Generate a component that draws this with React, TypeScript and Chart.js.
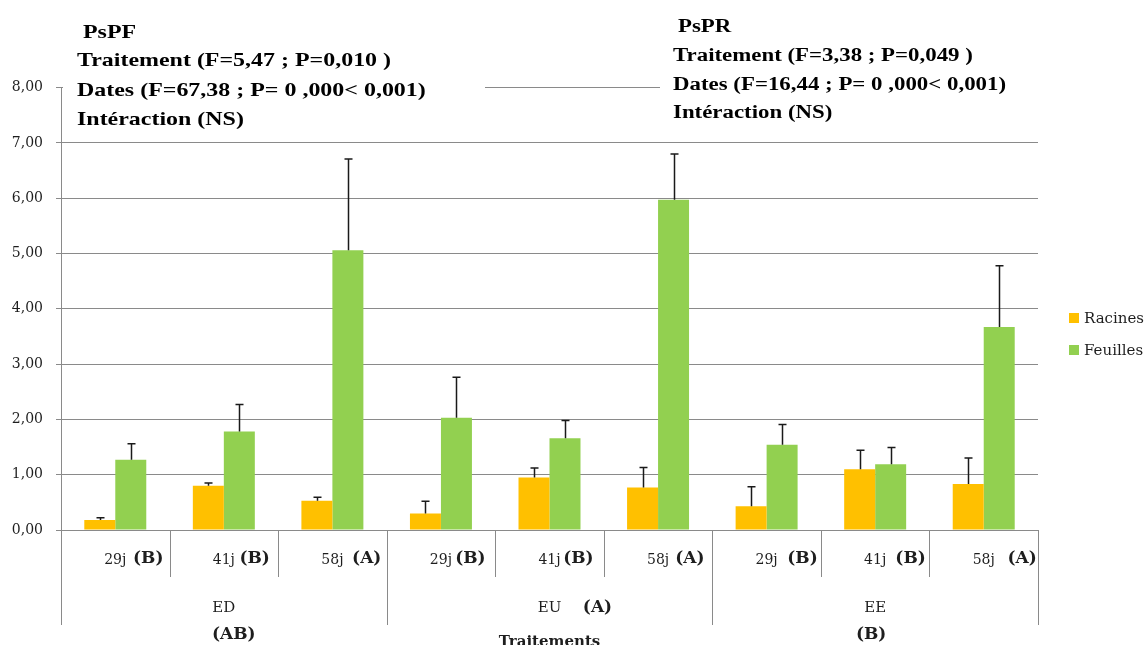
import React, { useEffect, useRef } from "react";
import { Chart, registerables } from "chart.js";

Chart.register(...registerables);

// ---------- data ----------
const dates = ["29j", "41j", "58j", "29j", "41j", "58j", "29j", "41j", "58j"];
const dateLetters = ["(B)", "(B)", "(A)", "(B)", "(B)", "(A)", "(B)", "(B)", "(A)"];
const treatments = ["ED", "EU", "EE"];
const treatmentLetters = ["(AB)", "(A)", "(B)"];
const seriesNames = ["Racines", "Feuilles"];
const racines = [0.18, 0.8, 0.53, 0.3, 0.95, 0.77, 0.43, 1.1, 0.83];
const racinesErr = [0.04, 0.05, 0.06, 0.22, 0.17, 0.36, 0.35, 0.34, 0.47];
const feuilles = [1.27, 1.78, 5.06, 2.03, 1.66, 5.97, 1.54, 1.19, 3.67];
const feuillesErr = [0.29, 0.49, 1.65, 0.73, 0.32, 0.83, 0.37, 0.3, 1.11];
const yMin = 0;
const yMax = 8;
const yStep = 1;
const axisTitle = "Traitements";
const leftNote = [
  "PsPF",
  "Traitement (F=5,47 ; P=0,010 )",
  "Dates (F=67,38 ; P= 0 ,000< 0,001)",
  "Intéraction (NS)",
];
const rightNote = [
  "PsPR",
  "Traitement (F=3,38 ; P=0,049 )",
  "Dates (F=16,44 ; P= 0 ,000< 0,001)",
  "Intéraction (NS)",
];

// ---------- layout / style ----------
const W = 1148;
const H = 645;
const COLORS = ["#FFC000", "#92D050"];
const GRID = "#8a8a8a";
const TEXT = "#1e1e1e";
const SERIF = '"DejaVu Serif", serif';
const TIMES = '"Liberation Serif", "Times New Roman", serif';
// left offset of each date letter from category centre
const dateLetterDx = [17.7, 15.6, 19.7, 14.2, 13.7, 17.2, 20.7, 20.2, 23.7];
// treatment letter placement relative to group centre / label baseline
const treatLetterPos = [
  { dx: 10, dy: 27 },
  { dx: 48, dy: 0 },
  { dx: -4, dy: 27 },
];

function drawStretched(
  ctx: CanvasRenderingContext2D,
  text: string,
  x: number,
  y: number,
  sx: number
) {
  ctx.save();
  ctx.translate(x, y);
  ctx.scale(sx, 1);
  ctx.fillText(text, 0, 0);
  ctx.restore();
}

const customPlugin = {
  id: "custom",
  afterDatasetsDraw(chart: any) {
    const ctx: CanvasRenderingContext2D = chart.ctx;
    const yScale = chart.scales.y;
    const errs = [racinesErr, feuillesErr];
    ctx.save();
    ctx.strokeStyle = "#1a1a1a";
    ctx.lineWidth = 1.5;
    chart.data.datasets.forEach((ds: any, di: number) => {
      const meta = chart.getDatasetMeta(di);
      meta.data.forEach((bar: any, j: number) => {
        const top = yScale.getPixelForValue(ds.data[j] + errs[di][j]);
        const x = Math.round(bar.x) + 0.5;
        ctx.beginPath();
        ctx.moveTo(x, bar.y);
        ctx.lineTo(x, top);
        ctx.moveTo(x - 4, top);
        ctx.lineTo(x + 4, top);
        ctx.stroke();
      });
    });
    ctx.restore();
  },
  afterDraw(chart: any) {
    const ctx: CanvasRenderingContext2D = chart.ctx;
    const xs = chart.scales.x;
    const area = chart.chartArea;
    const n = dates.length;
    const bottom = area.bottom;
    const bounds: number[] = [];
    for (let i = 0; i <= n; i++) {
      if (i === 0) bounds.push(area.left);
      else if (i === n) bounds.push(area.right);
      else bounds.push((xs.getPixelForValue(i - 1) + xs.getPixelForValue(i)) / 2);
    }
    ctx.save();
    // separators
    ctx.strokeStyle = GRID;
    ctx.lineWidth = 1;
    bounds.forEach((b, i) => {
      const x = Math.round(b) + 0.5;
      const long = i % 3 === 0;
      ctx.beginPath();
      ctx.moveTo(x, bottom);
      ctx.lineTo(x, long ? bottom + 95 : bottom + 47);
      ctx.stroke();
    });
    // date labels
    ctx.fillStyle = TEXT;
    ctx.textBaseline = "alphabetic";
    for (let i = 0; i < n; i++) {
      const cx = xs.getPixelForValue(i);
      ctx.font = `14px ${SERIF}`;
      ctx.textAlign = "center";
      ctx.fillText(dates[i], cx, bottom + 34);
      ctx.font = `bold 17px ${SERIF}`;
      ctx.textAlign = "left";
      ctx.fillText(dateLetters[i], cx + dateLetterDx[i], bottom + 33);
    }
    // treatment labels
    for (let g = 0; g < treatments.length; g++) {
      const cx = (bounds[g * 3] + bounds[g * 3 + 3]) / 2;
      ctx.font = `15px ${SERIF}`;
      ctx.textAlign = "center";
      ctx.fillText(treatments[g], cx, bottom + 82);
      ctx.font = `bold 17px ${SERIF}`;
      ctx.fillText(treatmentLetters[g], cx + treatLetterPos[g].dx, bottom + 82 + treatLetterPos[g].dy);
    }
    // axis title
    ctx.font = `bold 15px ${SERIF}`;
    ctx.textAlign = "center";
    ctx.fillText(axisTitle, (area.left + area.right) / 2, bottom + 116);

    // legend
    const legY = [318, 350];
    ctx.textAlign = "left";
    ctx.textBaseline = "middle";
    ctx.font = `15px ${SERIF}`;
    seriesNames.forEach((name, i) => {
      ctx.fillStyle = COLORS[i];
      ctx.fillRect(1069, legY[i] - 5, 10, 10);
      ctx.fillStyle = TEXT;
      ctx.fillText(name, 1084, legY[i] + 1);
    });

    // annotation boxes
    ctx.fillStyle = "#ffffff";
    ctx.fillRect(63, 0, 422, 134);
    ctx.fillRect(660, 0, W - 660, 134);
    ctx.fillStyle = "#000";
    ctx.textBaseline = "alphabetic";
    ctx.textAlign = "left";
    ctx.font = `bold 19px ${TIMES}`;
    const lBase = [38, 66, 96, 125];
    leftNote.forEach((t, i) => {
      drawStretched(ctx, t, i === 0 ? 83 : 77, lBase[i], 1.26);
    });
    ctx.font = `bold 18px ${TIMES}`;
    const rBase = [32, 61, 90, 118];
    rightNote.forEach((t, i) => {
      drawStretched(ctx, t, i === 0 ? 678 : 673, rBase[i], 1.27);
    });
    ctx.restore();
  },
};

export default function App() {
  const ref = useRef<HTMLCanvasElement | null>(null);
  useEffect(() => {
    if (!ref.current) return;
    const chart = new Chart(ref.current, {
      type: "bar",
      data: {
        labels: dates,
        datasets: [
          {
            label: seriesNames[0],
            data: racines,
            backgroundColor: COLORS[0],
            borderWidth: 0,
            categoryPercentage: 0.571,
            barPercentage: 1,
          },
          {
            label: seriesNames[1],
            data: feuilles,
            backgroundColor: COLORS[1],
            borderWidth: 0,
            categoryPercentage: 0.571,
            barPercentage: 1,
          },
        ],
      },
      options: {
        responsive: false,
        animation: false,
        devicePixelRatio: 1,
        layout: { padding: { top: 87.6, right: 110, left: 0, bottom: 0 } },
        plugins: {
          legend: { display: false },
          tooltip: { enabled: false },
        },
        scales: {
          x: {
            grid: { display: false },
            ticks: { display: false },
            border: { display: true, color: GRID },
            afterFit: (s: any) => {
              s.height = 115;
            },
          },
          y: {
            min: yMin,
            max: yMax,
            ticks: {
              stepSize: yStep,
              padding: 13,
              color: TEXT,
              font: { family: SERIF, size: 14 },
              callback: (v: any) => Number(v).toFixed(2).replace(".", ","),
            },
            grid: { color: GRID, tickLength: 5, lineWidth: 1 },
            border: { color: GRID },
            afterFit: (s: any) => {
              s.width = 61;
            },
          },
        },
      },
      plugins: [customPlugin],
    });
    return () => chart.destroy();
  }, []);
  return (
    <div style={{ position: "absolute", left: 0, top: 0, width: W, height: H, background: "#fff" }}>
      <canvas ref={ref} width={W} height={H} style={{ width: W, height: H, display: "block" }} />
    </div>
  );
}
